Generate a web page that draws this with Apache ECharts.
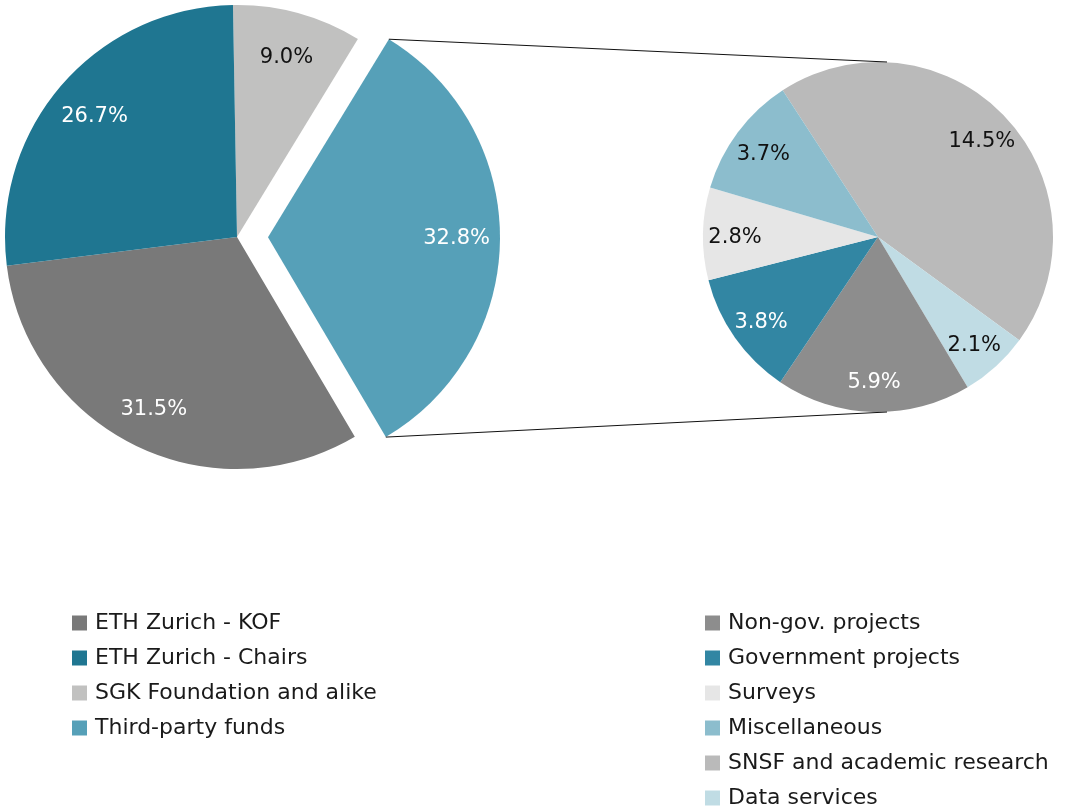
<!DOCTYPE html>
<html>
<head>
<meta charset="utf-8">
<script src="https://cdn.jsdelivr.net/npm/echarts@6/dist/echarts.min.js"></script>
<style>
  html, body { margin: 0; padding: 0; background: #fff; }
  #chart { width: 1077px; height: 811px; }
</style>
</head>
<body>
<div id="chart"></div>
<script>
  // main pie, clockwise from the top
  var mainNames = ['SGK Foundation and alike', 'Third-party funds', 'ETH Zurich - KOF', 'ETH Zurich - Chairs'];
  var mainValues = [9.0, 32.8, 31.5, 26.7];
  var mainColors = ['#c1c1c0', '#56a0b8', '#797979', '#1f7691'];
  var mainLabelColors = ['#111', '#fff', '#fff', '#fff'];
  var mainLegend = ['ETH Zurich - KOF', 'ETH Zurich - Chairs', 'SGK Foundation and alike', 'Third-party funds'];

  // breakdown of third-party funds, clockwise from upper left
  var subNames = ['SNSF and academic research', 'Data services', 'Non-gov. projects', 'Government projects', 'Surveys', 'Miscellaneous'];
  var subValues = [14.5, 2.1, 5.9, 3.8, 2.8, 3.7];
  var subColors = ['#bababa', '#c0dce4', '#8d8d8d', '#3286a3', '#e6e6e6', '#8cbdcd'];
  var subLabelColors = ['#111', '#111', '#fff', '#fff', '#111', '#111'];
  var subLegend = ['Non-gov. projects', 'Government projects', 'Surveys', 'Miscellaneous', 'SNSF and academic research', 'Data services'];

  var FONT = '"DejaVu Sans"';
  var c1 = [237, 237], r1 = 232, start1 = 91, explode = 31, explodeIdx = 1;
  var c2 = [878, 237], r2 = 175, start2 = 123;

  function items(names, values, colors, labelColors, transparent) {
    return names.map(function (n, i) {
      return {
        name: n,
        value: values[i],
        selected: i === explodeIdx && names === mainNames,
        itemStyle: { color: transparent ? 'rgba(0,0,0,0)' : colors[i] },
        label: { color: labelColors[i] }
      };
    });
  }

  function pie(names, values, colors, labelColors, center, radius, startAngle, withLabels) {
    var isMain = names === mainNames;
    return {
      type: 'pie',
      center: center,
      // the label ring puts labels at ~80% of the radius
      radius: withLabels ? [radius * 0.6, radius] : [0, radius],
      startAngle: startAngle,
      clockwise: true,
      sort: false,
      silent: true,
      animation: false,
      selectedMode: isMain ? 'single' : false,
      selectedOffset: explode,
      avoidLabelOverlap: false,
      emphasis: { disabled: true },
      select: { itemStyle: {} },
      labelLine: { show: false },
      label: withLabels ? {
        show: true,
        position: 'inside',
        offset: [0, 3],
        fontFamily: FONT,
        fontSize: 21,
        formatter: function (p) { return p.value.toFixed(1) + '%'; }
      } : { show: false },
      data: items(names, values, colors, labelColors, withLabels)
    };
  }

  // connector lines from the exploded slice corners to the top/bottom of the breakdown pie
  var total = mainValues.reduce(function (a, b) { return a + b; }, 0);
  var before = mainValues.slice(0, explodeIdx).reduce(function (a, b) { return a + b; }, 0);
  var aStart = (start1 - before / total * 360) * Math.PI / 180;
  var aEnd = (start1 - (before + mainValues[explodeIdx]) / total * 360) * Math.PI / 180;
  var aMid = (aStart + aEnd) / 2;
  var ox = c1[0] + explode * Math.cos(aMid), oy = c1[1] - explode * Math.sin(aMid);
  var topCorner = [ox + r1 * Math.cos(aStart), oy - r1 * Math.sin(aStart)];
  var botCorner = [ox + r1 * Math.cos(aEnd), oy - r1 * Math.sin(aEnd)];

  var legendText = { fontFamily: FONT, fontSize: 22, color: '#1a1a1a', padding: [0, 0, 0, 3] };

  var chart = echarts.init(document.getElementById('chart'));
  chart.setOption({
    backgroundColor: '#fff',
    animation: false,
    legend: [{
      data: mainLegend,
      orient: 'vertical',
      left: 72, top: 612, height: 260, padding: 0,
      icon: 'rect', itemWidth: 15, itemHeight: 15, itemGap: 13,
      selectedMode: false,
      textStyle: legendText
    }, {
      data: subLegend,
      orient: 'vertical',
      left: 705, top: 612, height: 260, padding: 0,
      icon: 'rect', itemWidth: 15, itemHeight: 15, itemGap: 13,
      selectedMode: false,
      textStyle: legendText
    }],
    graphic: [{
      type: 'polyline', silent: true, z: 10,
      shape: { points: [topCorner, [c2[0] + 9, c2[1] - r2]] },
      style: { stroke: '#111', lineWidth: 1, fill: null }
    }, {
      type: 'polyline', silent: true, z: 10,
      shape: { points: [botCorner, [c2[0] + 9, c2[1] + r2]] },
      style: { stroke: '#111', lineWidth: 1, fill: null }
    }],
    series: [
      pie(mainNames, mainValues, mainColors, mainLabelColors, c1, r1, start1, false),
      pie(subNames, subValues, subColors, subLabelColors, c2, r2, start2, false),
      pie(mainNames, mainValues, mainColors, mainLabelColors, c1, r1, start1, true),
      pie(subNames, subValues, subColors, subLabelColors, c2, r2, start2, true)
    ]
  });
</script>
</body>
</html>
